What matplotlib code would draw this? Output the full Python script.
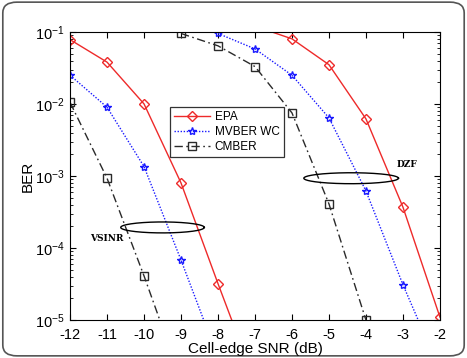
import numpy as np
import matplotlib
matplotlib.use("Agg")
import matplotlib.pyplot as plt
from matplotlib.patches import FancyBboxPatch

plt.rcParams["font.family"] = ["Liberation Sans", "DejaVu Sans"]
plt.rcParams["mathtext.fontset"] = "custom"
plt.rcParams["mathtext.rm"] = "Liberation Sans"
plt.rcParams["mathtext.it"] = "Liberation Sans:italic"
plt.rcParams["mathtext.bf"] = "Liberation Sans:bold"

# VSINR group (left curves)
x_epa_v = [-12, -11, -10, -9, -8, -7]
y_epa_v = [0.078, 0.038, 0.010, 8.0e-4, 3.2e-5, 1.4e-6]
x_mv_v = [-12, -11, -10, -9, -8]
y_mv_v = [0.025, 0.009, 1.35e-3, 6.8e-5, 3.0e-6]
x_cm_v = [-12, -11, -10, -9]
y_cm_v = [0.0105, 9.3e-4, 4.1e-5, 1.5e-6]

# DZF group (right curves)
x_epa_d = [-7, -6, -5, -4, -3, -2]
y_epa_d = [0.12, 0.08, 0.035, 6.2e-3, 3.7e-4, 1.1e-5]
x_mv_d = [-8, -7, -6, -5, -4, -3, -2]
y_mv_d = [0.095, 0.058, 0.025, 6.4e-3, 6.2e-4, 3.1e-5, 2.0e-6]
x_cm_d = [-9, -8, -7, -6, -5, -4]
y_cm_d = [0.095, 0.064, 0.033, 7.5e-3, 4.1e-4, 1.0e-5]

xticks = list(range(-12, -1))

RED = "#ee2a2a"
BLUE = "#1a1aff"
BLK = "#2a2a2a"

fig = plt.figure(figsize=(4.67, 3.58), dpi=100)
frame = FancyBboxPatch((0.006, 0.006), 0.988, 0.988, boxstyle="round,pad=0,rounding_size=0.03",
                       transform=fig.transFigure, facecolor="white", edgecolor="#555555",
                       linewidth=1.2, zorder=-10)
fig.patches.append(frame)

ax = fig.add_axes([0.150, 0.106, 0.792, 0.805])
ax.set_yscale("log")

sty = dict(markersize=6, markerfacecolor="none", clip_on=True)
dsty = dict(markersize=5.5, markerfacecolor="none", clip_on=True)
ax.plot(x_epa_v, y_epa_v, "-", color=RED, marker="D", markeredgecolor=RED, lw=1.0, label="EPA", **dsty)
ax.plot(x_mv_v, y_mv_v, color=BLUE, ls=(0, (1, 1.2)), marker="*", markeredgecolor=BLUE, lw=1.0, label="MVBER WC", **sty)
ax.plot(x_cm_v, y_cm_v, color=BLK, ls=(0, (6, 2.5, 1.2, 2.5)), marker="s", markeredgecolor=BLK, lw=1.0, label="CMBER", **sty)
ax.plot(x_epa_d, y_epa_d, "-", color=RED, marker="D", markeredgecolor=RED, lw=1.0, **dsty)
ax.plot(x_mv_d, y_mv_d, color=BLUE, ls=(0, (1, 1.2)), marker="*", markeredgecolor=BLUE, lw=1.0, **sty)
ax.plot(x_cm_d, y_cm_d, color=BLK, ls=(0, (6, 2.5, 1.2, 2.5)), marker="s", markeredgecolor=BLK, lw=1.0, **sty)

# ellipses drawn in log space
t = np.linspace(0, 2 * np.pi, 200)
for cx, cy, a in [(-9.5, np.log10(1.93e-4), 1.13), (-4.4, np.log10(9.3e-4), 1.28)]:
    ax.plot(cx + a * np.cos(t), 10 ** (cy + 0.076 * np.sin(t)), color="black", lw=1.0)

ax.text(-11.0, 1.35e-4, "VSINR", family="DejaVu Serif", fontweight="bold", fontsize=6.5, ha="center", va="center")
ax.text(-2.9, 1.45e-3, "DZF", family="DejaVu Serif", fontweight="bold", fontsize=6.5, ha="center", va="center")

ax.set_xlim(-12, -2)
ax.set_ylim(1e-5, 1e-1)
ax.set_xticks(xticks)
ax.set_xticklabels([str(v) for v in xticks])
ax.tick_params(which="both", direction="in", top=True, right=True, labelsize=10.5)
ax.tick_params(which="major", length=4)
ax.tick_params(which="minor", length=2)
ax.tick_params(axis="x", pad=6)
ax.tick_params(axis="y", pad=4)
ax.set_xlabel("Cell-edge SNR (dB)", fontsize=11, labelpad=0)
ax.set_ylabel("BER", fontsize=11, labelpad=0)

leg = ax.legend(loc="upper left", bbox_to_anchor=(0.255, 0.76), fontsize=8.5, frameon=True,
                fancybox=False, edgecolor="black", handlelength=3.0, borderpad=0.35,
                labelspacing=0.25, handletextpad=0.4)
leg.get_frame().set_linewidth(0.9)

fig.savefig("out.png", dpi=100)
